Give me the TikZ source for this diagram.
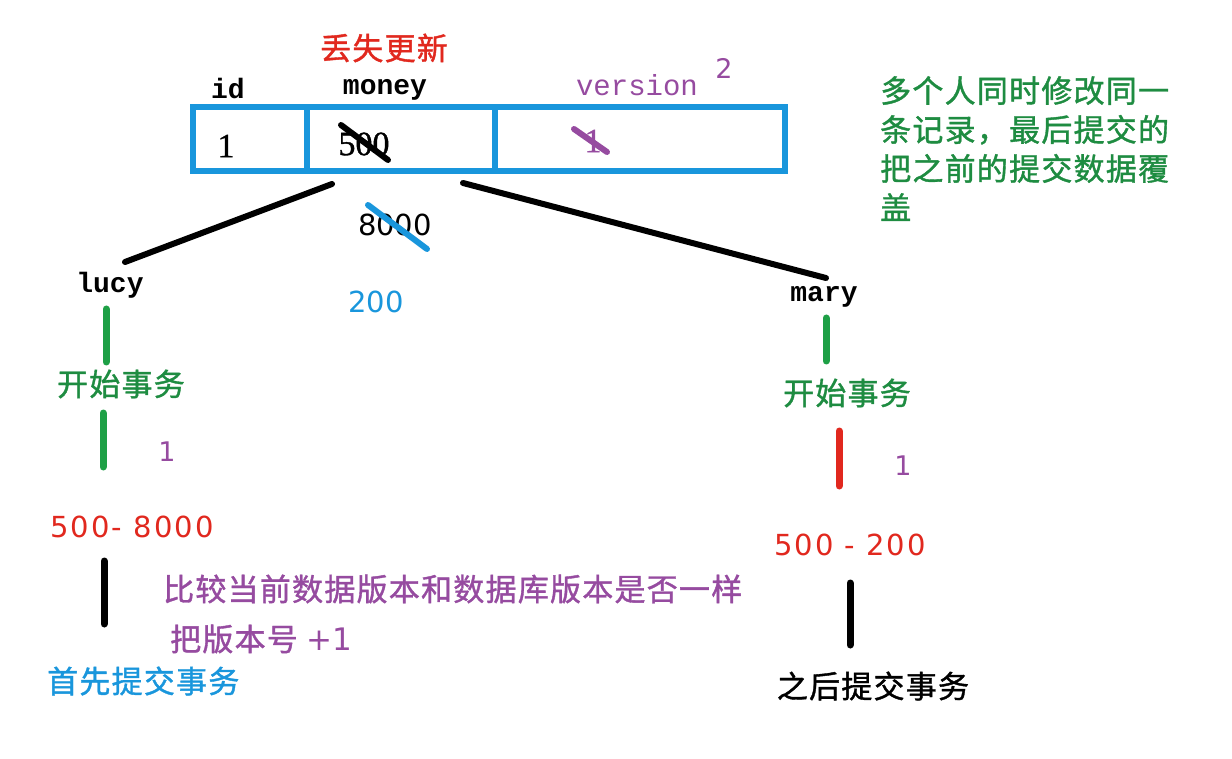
\documentclass[tikz,border=0pt]{standalone}
\usepackage{fontspec}
\newfontfamily\cjk[LetterSpace=4,FakeBold=1.2]{Noto Sans CJK SC}
\newfontfamily\mono{Liberation Mono}
\newfontfamily\numf[LetterSpace=7]{DejaVu Sans}
\newfontfamily\numplain{DejaVu Sans}
\newfontfamily\serifnum[FakeBold=1]{Liberation Serif}
\definecolor{tblue}{RGB}{25,150,220}
\definecolor{tgreen}{RGB}{30,140,65}
\definecolor{lgreen}{RGB}{30,160,70}
\definecolor{tpurple}{RGB}{150,75,160}
\definecolor{tred}{RGB}{225,40,30}
\begin{document}
\begin{tikzpicture}[x=1pt,y=-1pt,
  cjktext/.style={font=\cjk\fontsize{31}{39}\selectfont, inner sep=0pt},
  monotext/.style={font=\mono\bfseries\fontsize{28}{34}\selectfont, inner sep=0pt},
  numtext/.style={font=\numf\fontsize{29}{34}\selectfont, inner sep=0pt},
  cell/.style={draw=tblue, line width=6pt, minimum height=64pt, inner sep=0pt},
  bar/.style={line width=7pt, line cap=round},
  link/.style={line width=6pt, line cap=round, black},
  strike/.style={line width=6pt, line cap=round}
]
\useasboundingbox (0,0) rectangle (1232,759);
\fill[white] (0,0) rectangle (1232,759);

% title
\node[cjktext, text=tred] (title) at (384,48) {丢失更新};

% column headers
\node[monotext] (hid) at (228,88) {id};
\node[monotext] (hmoney) at (385,90) {money};
\node[font=\mono\fontsize{29}{34}\selectfont, inner sep=0pt, text=tpurple] (hver) at (637,85) {version};
\node[font=\numplain\fontsize{27}{30}\selectfont, inner sep=0pt, text=tpurple] (ver2) at (724,68) {2};

% table cells
\node[cell, minimum width=114pt] (c1) at (250,139) {};
\node[cell, minimum width=188pt] (c2) at (401,139) {};
\node[cell, minimum width=290pt] (c3) at (640,139) {};

\node[font=\serifnum\fontsize{34}{38}\selectfont, inner sep=0pt] (v1) at (226,146) {1};
\node[font=\serifnum\fontsize{34}{38}\selectfont, inner sep=0pt] (v500) at (364,144) {500};
\node[font=\serifnum\fontsize{34}{38}\selectfont, inner sep=0pt, text=tpurple] (vver) at (593,141) {1};

% strikes in table
\coordinate (s1a) at (341,125); \coordinate (s1b) at (388,160);
\draw[strike, black] (s1a) -- (s1b);
\coordinate (s2a) at (574,129); \coordinate (s2b) at (607,152);
\draw[strike, tpurple] (s2a) -- (s2b);

% links to users
\coordinate (tl) at (332,184); \coordinate (le) at (125,262);
\draw[link] (tl) -- (le);
\coordinate (tr) at (463,183); \coordinate (re) at (826,278);
\draw[link] (tr) -- (re);

% 8000 / 200
\node[font=\numplain\fontsize{29}{34}\selectfont, inner sep=0pt] (n8000) at (395,225) {8000};
\coordinate (s3a) at (368,205); \coordinate (s3b) at (427,249);
\draw[strike, tblue] (s3a) -- (s3b);
\node[font=\numplain\fontsize{29}{34}\selectfont, inner sep=0pt, text=tblue] (n200) at (376,302) {200};

% lucy side
\node[monotext] (lucy) at (110,285) {lucy};
\coordinate (l1a) at (106,309); \coordinate (l1b) at (106,362);
\draw[bar, lgreen] (l1a) -- (l1b);
\node[cjktext, text=tgreen] (lstart) at (121,384) {开始事务};
\coordinate (l2a) at (103,413); \coordinate (l2b) at (103,467);
\draw[bar, lgreen] (l2a) -- (l2b);
\node[font=\numplain\fontsize{27}{30}\selectfont, inner sep=0pt, text=tpurple] (lver) at (167,452) {1};
\node[numtext, text=tred] (lcalc) at (132,527) {500- 8000};
\coordinate (l3a) at (104,561); \coordinate (l3b) at (104,624);
\draw[bar, black] (l3a) -- (l3b);
\node[cjktext, text=tblue, anchor=west] (lcommit) at (47,681) {首先提交事务};

% comparison notes
\node[cjktext, text=tpurple, anchor=west] (cmp) at (163,589) {比较当前数据版本和数据库版本是否一样};
\node[cjktext, text=tpurple, anchor=west] (inc) at (170,639) {把版本号 {\numplain +1}};

% mary side
\node[monotext] (mary) at (824,297) {mary};
\coordinate (m1a) at (826,318); \coordinate (m1b) at (826,361);
\draw[bar, lgreen] (m1a) -- (m1b);
\node[cjktext, text=tgreen] (mstart) at (847,393) {开始事务};
\coordinate (m2a) at (839,431); \coordinate (m2b) at (839,486);
\draw[bar, tred] (m2a) -- (m2b);
\node[font=\numplain\fontsize{27}{30}\selectfont, inner sep=0pt, text=tpurple] (mver) at (903,466) {1};
\node[numtext, text=tred] (mcalc) at (850,545) {500 - 200};
\coordinate (m3a) at (850,583); \coordinate (m3b) at (850,645);
\draw[bar, black] (m3a) -- (m3b);
\node[cjktext, text=black] (mcommit) at (873,686) {之后提交事务};

% right note
\node[cjktext, text=tgreen, anchor=north west, align=left] (note) at (880,76)
  {多个人同时修改同一\\条记录，最后提交的\\把之前的提交数据覆\\盖};
\end{tikzpicture}
\end{document}
